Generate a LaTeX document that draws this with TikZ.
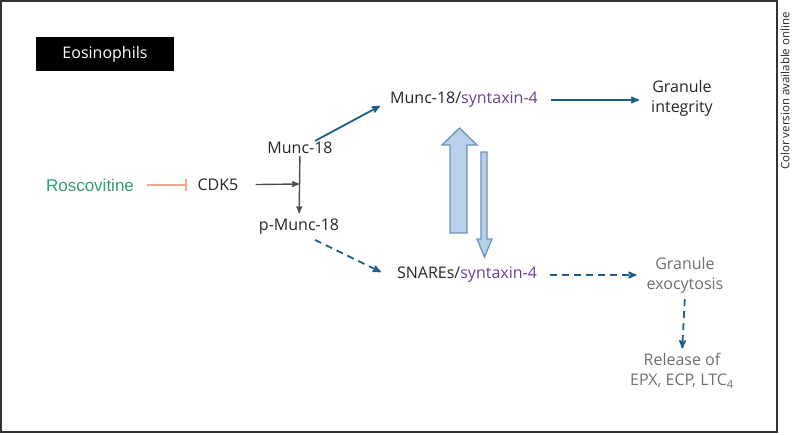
\documentclass[tikz,border=0pt]{standalone}
\usepackage{fontspec}
\setmainfont{Open Sans}
\newfontfamily\roscofont{Liberation Sans}
\usepackage{tikz}
\usetikzlibrary{arrows}
\definecolor{pathblue}{HTML}{1C5F88}
\definecolor{syntaxpurple}{HTML}{6B3F92}
\definecolor{roscogreen}{HTML}{2E9E6E}
\definecolor{inhibsalmon}{HTML}{F2A68C}
\definecolor{textdark}{HTML}{262626}
\definecolor{textgray}{HTML}{6E6E6E}
\definecolor{shiftfill}{HTML}{B7D1EA}
\definecolor{shiftdraw}{HTML}{6E93BF}

\begin{document}
\begin{tikzpicture}[x=1pt,y=-1pt,
  lbl/.style={font=\fontsize{16}{20}\selectfont, text=textdark, inner sep=1pt, align=center},
  graylbl/.style={lbl, text=textgray},
  solidblue/.style={draw=pathblue, line width=1.8pt, ->, >=stealth'},
  dashblue/.style={solidblue, dash pattern=on 7pt off 5pt},
  grayline/.style={draw=black!70, line width=1.4pt, ->, >=stealth'},
  shiftarrow/.style={fill=shiftfill, draw=shiftdraw, line width=1.3pt, line join=miter}]
\useasboundingbox (0,0) rectangle (792,434);
\draw[black!80, line width=1.4pt] (1,1) rectangle (777,432);
\node[rotate=90, font=\fontsize{11.5}{13}\selectfont, text=textdark] (online) at (785,91) {Color version available online};

% cell label
\node[fill=black, text=white, minimum width=138pt, minimum height=34pt,
  font=\fontsize{16}{18}\selectfont] (eos) at (105,54) {Eosinophils};

% nodes
\node[lbl, text=roscogreen, font=\roscofont\fontsize{17}{20}\selectfont] (rosco) at (90,185) {Roscovitine};
\node[lbl] (cdk) at (218,185) {CDK5};
\node[lbl] (munc) at (300,148) {Munc-18};
\node[lbl] (pmunc) at (299,227) {p-Munc-18};
\coordinate (junct) at (299,184);
\node[lbl] (msyn) at (464,100) {Munc-18/\textcolor{syntaxpurple}{syntaxin-4}};
\node[lbl] (snare) at (467,275) {SNAREs/\textcolor{syntaxpurple}{syntaxin-4}};
\node[lbl] (integ) at (682,98) {Granule\\integrity};
\node[graylbl] (exo) at (685,275) {Granule\\exocytosis};
\node[graylbl] (release) at (682,371) {Release of\\EPX, ECP, LTC\textsubscript{4}};

% connectors
\draw[draw=inhibsalmon, line width=2.2pt, -|, shorten <=12pt, shorten >=9pt] (rosco) -- (cdk);
\draw[grayline, shorten <=16pt] (cdk) -- (junct);
\draw[grayline, shorten <=1pt, shorten >=5pt] (munc) -- (pmunc);
\draw[solidblue] ([xshift=15pt]munc.north) -- ([xshift=-9pt,yshift=3pt]msyn.south west);
\draw[dashblue] ([xshift=16pt,yshift=-4pt]pmunc.south) -- ([xshift=-15pt,yshift=3pt]snare.west);
\draw[solidblue, shorten <=12pt, shorten >=11pt] (msyn.east) -- (msyn.east -| integ.west);
\draw[dashblue, shorten <=12pt, shorten >=9pt] (snare.east) -- (snare.east -| exo.west);
\draw[dashblue, shorten <=5pt, shorten >=4pt] (exo.south) -- (release.north);

% equilibrium arrows
\draw[shiftarrow] (450,233) -- (450,145) -- (442,145) -- (459.5,128) -- (477,145) -- (467,145) -- (467,233) -- cycle;
\draw[shiftarrow] (481,152) -- (481,239) -- (477,239) -- (484.5,257) -- (492,239) -- (487,239) -- (487,152) -- cycle;
\end{tikzpicture}
\end{document}
